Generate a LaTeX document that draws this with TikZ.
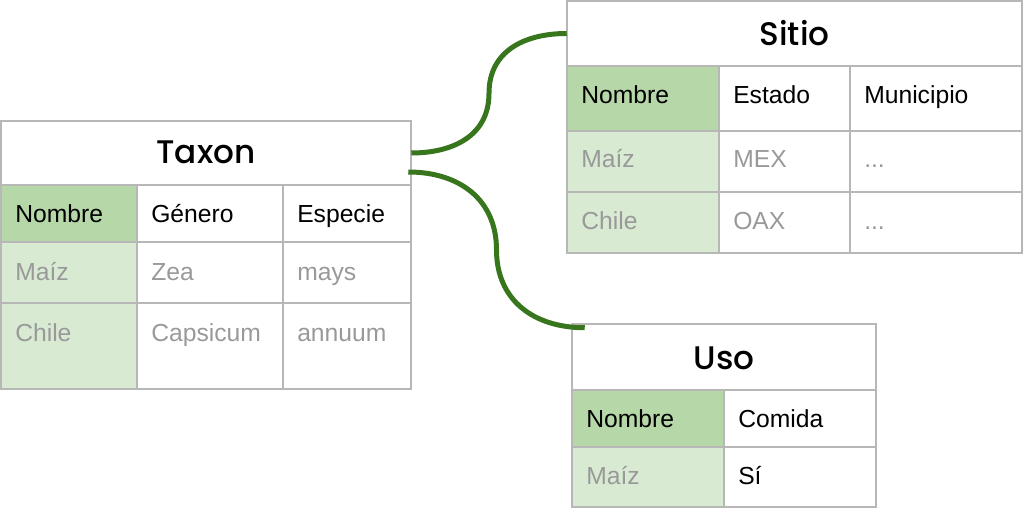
\documentclass[tikz,border=0pt]{standalone}
\usepackage{fontspec}
\setmainfont{Liberation Sans}
\IfFontExistsTF{Poppins Medium}
  {\newfontfamily\titlefont{Poppins Medium}}
  {\newfontfamily\titlefont{Poppins}[FakeBold=1.5]}
\usetikzlibrary{fit,calc}
\definecolor{link}{HTML}{38761D}
\definecolor{keyhead}{HTML}{B6D7A8}
\definecolor{keyrow}{HTML}{D9EAD3}
\definecolor{rule}{HTML}{B7B7B7}
\definecolor{faded}{HTML}{999999}
\tikzset{
  tablerule/.style={draw=rule, line width=1pt},
  titlerow/.style={inner sep=0pt},
  tabletitle/.style={anchor=base, inner sep=0pt, font=\titlefont\fontsize{24.5}{28}\selectfont},
  cell/.style={anchor=base west, inner sep=0pt, font=\fontsize{18.5}{22}\selectfont},
  datum/.style={cell, text=faded},
  relation/.style={draw=link, line width=3.75pt}
}

\begin{document}
\begin{tikzpicture}[x=0.75pt, y=-0.75pt]
\useasboundingbox (0,0) rectangle (1024,509);
% Taxon
\fill[keyhead] (1,185) rectangle (137,242);
\fill[keyrow] (1,242) rectangle (137,389);
\draw[tablerule] (1,121) rectangle (411,389);
\foreach \y in {185,242,303} \draw[tablerule] (1,\y) -- (411,\y);
\foreach \x in {137,283} \draw[tablerule] (\x,185) -- (\x,389);
\node[titlerow, fit={(1,121) (411,185)}] (taxon) {};
\node[tabletitle] (taxon-title) at ($(taxon.center)+(0,10.5)$) {Taxon};
\foreach \t/\x [count=\i] in {Nombre/15, Género/151, Especie/297} \node[cell] (taxon-h\i) at (\x,223) {\t};
\foreach \t/\x [count=\i] in {Maíz/15, Zea/151, mays/297} \node[datum] (taxon-a\i) at (\x,281) {\t};
\foreach \t/\x [count=\i] in {Chile/15, Capsicum/151, annuum/297} \node[datum] (taxon-b\i) at (\x,342) {\t};
% Sitio
\fill[keyhead] (567,66) rectangle (719,131);
\fill[keyrow] (567,131) rectangle (719,253);
\draw[tablerule] (567,1) rectangle (1022,253);
\foreach \y in {66,131,192} \draw[tablerule] (567,\y) -- (1022,\y);
\foreach \x in {719,850} \draw[tablerule] (\x,66) -- (\x,253);
\node[titlerow, fit={(567,1) (1022,66)}] (sitio) {};
\node[tabletitle] (sitio-title) at ($(sitio.center)+(0,12)$) {Sitio};
\foreach \t/\x [count=\i] in {Nombre/581, Estado/733, Municipio/864} \node[cell] (sitio-h\i) at (\x,104) {\t};
\foreach \t/\x [count=\i] in {Maíz/581, MEX/733} \node[datum] (sitio-a\i) at (\x,168) {\t};
\foreach \t/\x [count=\i] in {Chile/581, OAX/733} \node[datum] (sitio-b\i) at (\x,230) {\t};
\node[datum] (sitio-a3) at (864,168) {...};
\node[datum] (sitio-b3) at (864,230) {...};
% Uso
\fill[keyhead] (572,390) rectangle (724,447);
\fill[keyrow] (572,447) rectangle (724,507);
\draw[tablerule] (572,324) rectangle (876,507);
\foreach \y in {390,447} \draw[tablerule] (572,\y) -- (876,\y);
\draw[tablerule] (724,390) -- (724,507);
\node[titlerow, fit={(572,324) (876,390)}] (uso) {};
\node[tabletitle] (uso-title) at ($(uso.center)+(0,12.5)$) {Uso};
\node[cell] (uso-h1) at (586,427) {Nombre};
\node[cell] (uso-h2) at (738,427) {Comida};
\node[datum] (uso-a1) at (586,484) {Maíz};
\node[cell] (uso-a2) at (738,484) {Sí};
% links
\draw[relation] (taxon.east) to[out=0, in=-90, looseness=1.1] ($(taxon.east)!0.5!(sitio.west)$)
  to[out=90, in=180, looseness=1.1] (sitio.west);
\coordinate (uso-in) at ([shift={(13,4)}]uso.north west);
\draw[relation] ([shift={(-3,19)}]taxon.east) to[out=0, in=90, looseness=1.1] ($([shift={(-3,19)}]taxon.east)!0.5!(uso-in)$)
  to[out=-90, in=180, looseness=1.1] (uso-in);
\end{tikzpicture}
\end{document}
